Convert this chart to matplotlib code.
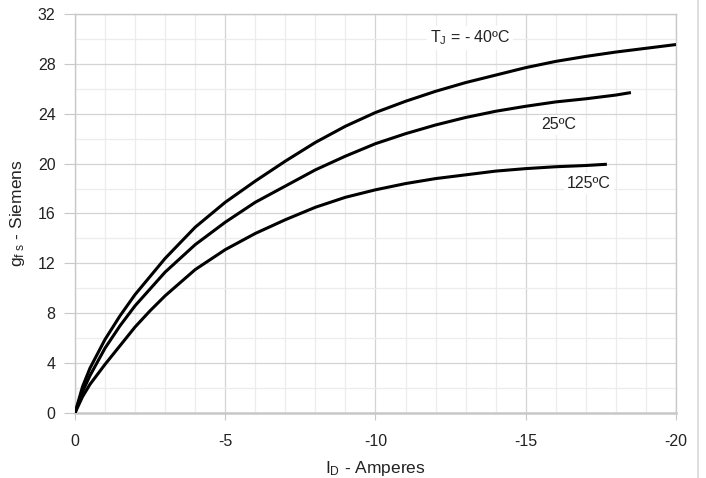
import matplotlib
matplotlib.use("Agg")
import matplotlib.pyplot as plt
from matplotlib.lines import Line2D

plt.rcParams['font.family'] = ['Liberation Sans', 'DejaVu Sans']
plt.rcParams['mathtext.fontset'] = 'custom'
plt.rcParams['mathtext.rm'] = 'Liberation Sans'
plt.rcParams['mathtext.it'] = 'Liberation Sans'

# drain current (A) and forward transconductance (S)
id_m40 = [0, -0.25, -0.5, -1, -1.5, -2, -3, -4, -5, -6, -7, -8, -9, -10, -11, -12, -13, -14, -15, -16, -17, -18, -19, -20]
gfs_m40 = [0, 2.1, 3.6, 5.9, 7.8, 9.5, 12.4, 14.9, 16.9, 18.6, 20.2, 21.7, 23.0, 24.1, 25.0, 25.8, 26.5, 27.1, 27.7, 28.2, 28.6, 28.95, 29.25, 29.55]

id_25 = [0, -0.25, -0.5, -1, -1.5, -2, -3, -4, -5, -6, -7, -8, -9, -10, -11, -12, -13, -14, -15, -16, -17, -18, -18.5]
gfs_25 = [0, 1.7, 3.0, 5.2, 7.0, 8.6, 11.3, 13.5, 15.3, 16.9, 18.2, 19.5, 20.6, 21.6, 22.4, 23.1, 23.7, 24.2, 24.6, 24.95, 25.2, 25.5, 25.7]

id_125 = [0, -0.25, -0.5, -1, -1.5, -2, -2.5, -3, -4, -5, -6, -7, -8, -9, -10, -11, -12, -13, -14, -15, -16, -17, -17.7]
gfs_125 = [0, 1.3, 2.3, 3.9, 5.4, 6.9, 8.2, 9.4, 11.5, 13.1, 14.4, 15.5, 16.5, 17.3, 17.9, 18.4, 18.8, 19.1, 19.4, 19.6, 19.75, 19.85, 19.95]

labels = ["T$_{\\rm J}$ = - 40ºC", "25ºC", "125ºC"]
label_pos = [(-13.15, 30.1), (-16.1, 23.1), (-17.1, 18.4)]

fig = plt.figure(figsize=(7.06, 4.78), dpi=100)
ax = fig.add_axes([0.1062, 0.136, 0.8513, 0.8347])

for xs, ys in [(id_m40, gfs_m40), (id_25, gfs_25), (id_125, gfs_125)]:
    ax.plot(xs, ys, color='black', lw=2.2, solid_joinstyle='round', solid_capstyle='butt', zorder=3)

for txt, (tx, ty) in zip(labels, label_pos):
    ax.text(tx, ty, txt, ha='center', va='center', fontsize=11.5, color='#222222',
            bbox=dict(facecolor='white', edgecolor='none', pad=2), zorder=2)

ax.set_xlim(0, -20)
ax.set_ylim(0, 32)
ax.set_xticks([0, -5, -10, -15, -20])
ax.set_xticks(range(0, -21, -1), minor=True)
ax.set_yticks(range(0, 33, 4))
ax.set_yticks(range(0, 33, 2), minor=True)
ax.grid(which='major', color='#d4d4d4', lw=0.9)
ax.grid(which='minor', color='#ececec', lw=0.9)
ax.set_axisbelow(True)

for s in ax.spines.values():
    s.set_color('#c8c8c8')
    s.set_linewidth(1.0)
ax.spines['bottom'].set_linewidth(1.8)
ax.tick_params(which='major', length=8, color='#c8c8c8', labelsize=11.5, labelcolor='#222222', pad=6)
ax.tick_params(axis='x', which='major', length=5, pad=10)
ax.tick_params(which='minor', length=0)
ax.set_xticklabels(['0', '-5', '-10', '-15', '-20'])

ax.set_xlabel("I$_{\\rm D}$ - Amperes", fontsize=12.5, color='#222222', labelpad=7)
ax.set_ylabel("g$_{\\rm f\\ s}$ - Siemens", fontsize=12.5, color='#222222', labelpad=8)

fig.add_artist(Line2D([0.9887, 0.9887], [0, 1], transform=fig.transFigure, color='#d8d8d8', lw=1.2))

fig.savefig("out.png", dpi=100)
